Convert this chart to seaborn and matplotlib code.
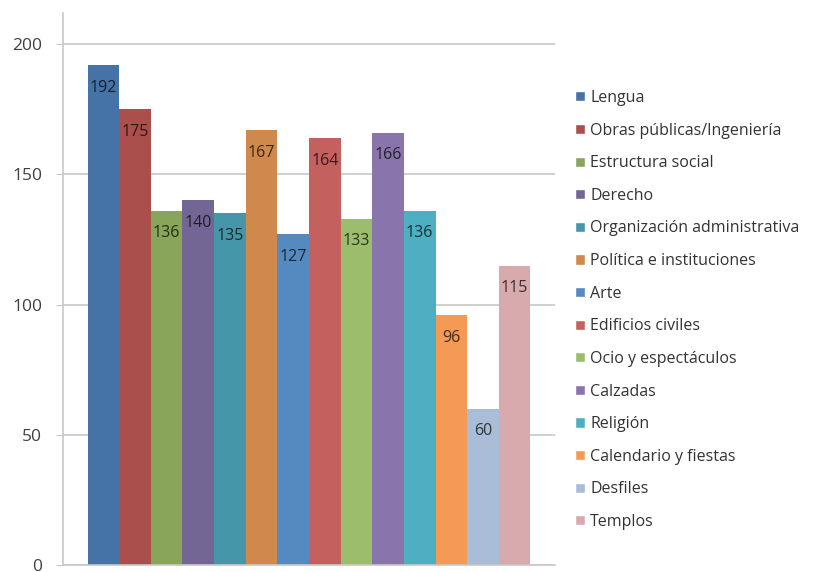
import numpy as np
import pandas as pd
import seaborn as sns
import matplotlib.pyplot as plt
import matplotlib.colors as mcolors

categorias = ["Lengua", "Obras públicas/Ingeniería", "Estructura social", "Derecho",
              "Organización administrativa", "Política e instituciones", "Arte",
              "Edificios civiles", "Ocio y espectáculos", "Calzadas", "Religión",
              "Calendario y fiestas", "Desfiles", "Templos"]
valores = [192, 175, 136, 140, 135, 167, 127, 164, 133, 166, 136, 96, 60, 115]
colores = ["#4673A7", "#AA4F4C", "#88A55A", "#746694", "#4596A8", "#D0894C",
           "#548AC0", "#C4605D", "#9CBD6C", "#8A74AC", "#4EAFC3", "#F49A55",
           "#A9BDD9", "#D8A9AD"]

df = pd.DataFrame({"grupo": ["g"] * len(categorias), "categoria": categorias, "valor": valores})

sns.set_style("white")
plt.rcParams["font.family"] = ["Open Sans", "DejaVu Sans"]

fig = plt.figure(figsize=(8.37, 5.72), dpi=100)
ax = fig.add_axes([63 / 837, 1 - 565 / 572, (555 - 63) / 837, (565 - 13) / 572])

sns.barplot(data=df, x="grupo", y="valor", hue="categoria", palette=colores,
            width=0.9, saturation=1, legend=False, linewidth=0, ax=ax)

ax.set_xlim(-0.5, 0.5)
ax.set_ylim(0, 212)
ax.set_yticks([0, 50, 100, 150, 200])
ax.set_xticks([])
ax.set_xlabel("")
ax.set_ylabel("")
ax.yaxis.grid(True, color="#c8c8c8", linewidth=1.2)
ax.set_axisbelow(True)
for s in ["top", "right"]:
    ax.spines[s].set_visible(False)
for s in ["left", "bottom"]:
    ax.spines[s].set_color("#c8c8c8")
    ax.spines[s].set_linewidth(1.2)
ax.tick_params(axis="y", length=5, color="#c8c8c8", pad=10, labelsize=12.5, labelcolor="#404040", left=True)

# etiquetas en un tono oscuro de cada barra
for cont, col in zip(ax.containers, colores):
    oscuro = tuple(c * 0.28 for c in mcolors.to_rgb(col))
    ax.bar_label(cont, labels=[str(int(v)) for v in cont.datavalues],
                 padding=-22, fontsize=11.5, color=oscuro)

handles = [plt.Rectangle((0, 0), 1, 1, facecolor=c) for c in colores]
fig.legend(handles, categorias, loc="center left", bbox_to_anchor=(575 / 837, 1 - 310 / 572),
           frameon=False, fontsize=11.5, labelcolor="#333333", handlelength=0.6,
           handleheight=0.6, handletextpad=0.35, labelspacing=1.04, borderpad=0,
           borderaxespad=0)

fig.savefig("out.png", dpi=100)
